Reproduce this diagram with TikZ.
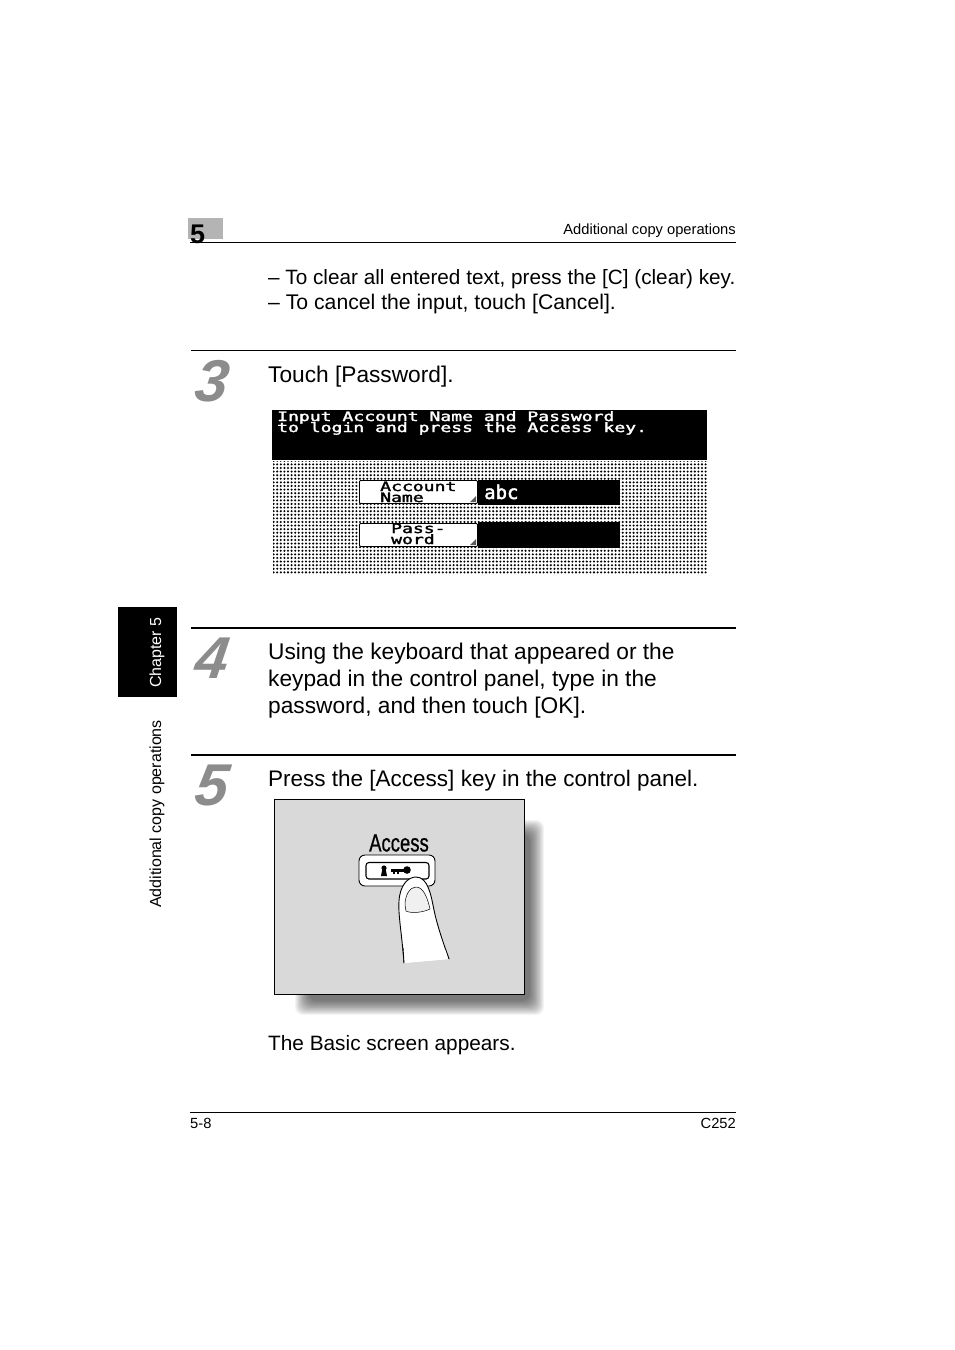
\documentclass[tikz,border=0pt]{standalone}
\usepackage{fontspec}
\usepackage{graphicx}
\setmainfont{Liberation Sans}
\newfontfamily\lcdfont{DejaVu Sans Mono}[FakeBold=2]
\newfontfamily\labelfont{Liberation Sans}[FakeBold=0.8]
\usetikzlibrary{patterns.meta}
\definecolor{stepgray}{HTML}{8C8C8C}
\definecolor{tabgray}{HTML}{B4B4B4}
\definecolor{panelgray}{HTML}{D9D9D9}
\tikzset{
  bodytext/.style={anchor=base west,inner sep=0pt,font=\fontsize{22.7}{26}\selectfont},
  smalltext/.style={inner sep=0pt,font=\fontsize{14.7}{17}\selectfont},
  sidetext/.style={inner sep=0pt,rotate=90,anchor=base west,font=\fontsize{16}{17}\selectfont},
  stepnum/.style={anchor=base west,inner sep=0pt,text=stepgray,xslant=0.14,transform shape,font=\fontsize{59}{59}\selectfont\bfseries\itshape},
  rulethick/.style={line width=1.2pt},
  rulethin/.style={line width=0.8pt},
  lcdtext/.style={anchor=base west,inner sep=0pt,font=\fontsize{13}{13}\selectfont\lcdfont},
  softkey/.style={draw=black,fill=white,line width=0.9pt,rounded corners=1pt},
}
\newcommand{\lcd}[1]{\scalebox{1.39}[1.0]{#1}}
\begin{document}
\begin{tikzpicture}[x=1pt,y=-1pt]
        \useasboundingbox (0,0) rectangle (954,1350);
        % header
        \fill[tabgray] (188,218) rectangle (223,239);
        \node[anchor=base west,inner sep=0pt,font=\fontsize{27}{27}\selectfont\bfseries] (chapnum) at (190,243) {5};
        \draw[rulethin] (190,242.5) -- (736,242.5);
        \node[smalltext,anchor=base east] (headtitle) at (736,234) {Additional copy operations};
        % side tab
        \fill[black] (118,607) rectangle (177,697);
        \node[sidetext,text=white] (tabchapter) at (161,688) {Chapter 5};
        \node[sidetext] (tabtitle) at (161,908) {Additional copy operations};
        % top notes
        \node[bodytext,font=\fontsize{20.72}{26}\selectfont] (noteclear) at (268,284) {– To clear all entered text, press the [C] (clear) key.};
        \node[bodytext,font=\fontsize{21.2}{26}\selectfont] (notecancel) at (268,309) {– To cancel the input, touch [Cancel].};
        % step 3
        \draw[rulethin] (191,350.5) -- (736,350.5);
        \node[stepnum] (stepthree) at (193,401) {3};
        \node[bodytext] (touchpass) at (268,382) {Touch [Password].};
        \fill[pattern={Dots[distance=3.6pt,radius=1.15pt]},pattern color=black] (273,461) rectangle (707,574);
        \fill[black] (272,410) rectangle (707,459.5);
        \node[lcdtext,text=white] (lcdone) at (277,421) {\lcd{Input Account Name and Password}};
        \node[lcdtext,text=white] (lcdtwo) at (277,432) {\lcd{to login and press the Access key.}};
        \fill[black] (478,480) rectangle (620,505);
        \fill[black] (478,522) rectangle (620,548);
        \draw[softkey] (359.5,480.5) rectangle (477.5,503.5);
        \draw[softkey] (359.5,523.5) rectangle (477.5,546.5);
        \fill[black!65] (476,496) -- (476,502) -- (470,502) -- cycle;
        \fill[black!65] (476,539) -- (476,545) -- (470,545) -- cycle;
        \node[lcdtext] (keyaccount) at (380,491) {\lcd{Account}};
        \node[lcdtext] (keyname) at (380,502) {\lcd{Name}};
        \node[lcdtext] (keypass) at (391,533) {\lcd{Pass-}};
        \node[lcdtext] (keyword) at (391,544) {\lcd{word}};
        \node[lcdtext,text=white,font=\fontsize{19}{19}\selectfont\lcdfont] (fieldabc) at (484,499) {abc};
        % step 4
        \draw[rulethick] (191,628) -- (736,628);
        \node[stepnum] (stepfour) at (193,678) {4};
        \node[bodytext] (typeone) at (268,659) {Using the keyboard that appeared or the};
        \node[bodytext] (typetwo) at (268,686) {keypad in the control panel, type in the};
        \node[bodytext] (typethree) at (268,713) {password, and then touch [OK].};
        % step 5
        \draw[rulethick] (191,755) -- (736,755);
        \node[stepnum] (stepfive) at (193,805) {5};
        \node[bodytext,font=\fontsize{22.5}{26}\selectfont] (pressaccess) at (268,786) {Press the [Access] key in the control panel.};
        % panel shadow
        \foreach \i in {0,...,16}
          \fill[black,opacity=0.045,rounded corners=8pt] (295+\i*0.9,820+\i*0.9) rectangle (544-\i*0.9,1015-\i*0.9);
        \draw[fill=panelgray,line width=0.9pt] (274.5,799.5) rectangle (524.5,994.5);
        \node[inner sep=0pt,font=\fontsize{25}{25}\selectfont\labelfont] (accesslabel) at (399,843) {\scalebox{0.74}[1]{Access}};
        \draw[fill=white,line width=0.9pt,rounded corners=6pt] (359,855) rectangle (435,886);
        \draw[fill=white,line width=1.1pt,rounded corners=3pt] (366,862.5) rectangle (429,879);
        % key symbol
        \fill[black] (384,868) circle (2.6);
        \fill[black] (382.5,868) -- (385.5,868) -- (387,876) -- (381,876) -- cycle;
        \fill[black] (391,868.5) rectangle (405,871.5);
        \fill[black] (393,871) rectangle (395,873.5);
        \fill[black] (397,871) rectangle (399,873.5);
        \fill[black] (407,870) circle (3.8);
        % finger
        \draw[fill=white,line width=0.9pt] (404,963) .. controls (402,935) and (398,915) .. (399,901)
          .. controls (400,885) and (408,877) .. (416,877)
          .. controls (428,877) and (431,895) .. (434,910)
          .. controls (437,925) and (444,945) .. (449,959);
        \fill[white] (404,963) -- (449,959) -- (447,950) -- (403,950) -- cycle;
        \draw[line width=0.9pt] (403,948) -- (404,963);
        \draw[line width=0.9pt] (446,950) -- (449,959);
        \draw[fill=black!6,line width=0.5pt] (405,905) .. controls (405,895) and (410,887) .. (416,887)
          .. controls (424,887) and (428,900) .. (430,909)
          .. controls (424,912) and (412,914) .. (406,911) -- cycle;
        \node[bodytext,font=\fontsize{20.8}{24}\selectfont] (basicscreen) at (268,1050) {The Basic screen appears.};
        % footer
        \draw[rulethin] (190,1112.5) -- (736,1112.5);
        \node[smalltext,anchor=base west] (pageno) at (190,1128) {5-8};
        \node[smalltext,anchor=base east] (model) at (736,1128) {C252};
    \end{tikzpicture}
\end{document}
